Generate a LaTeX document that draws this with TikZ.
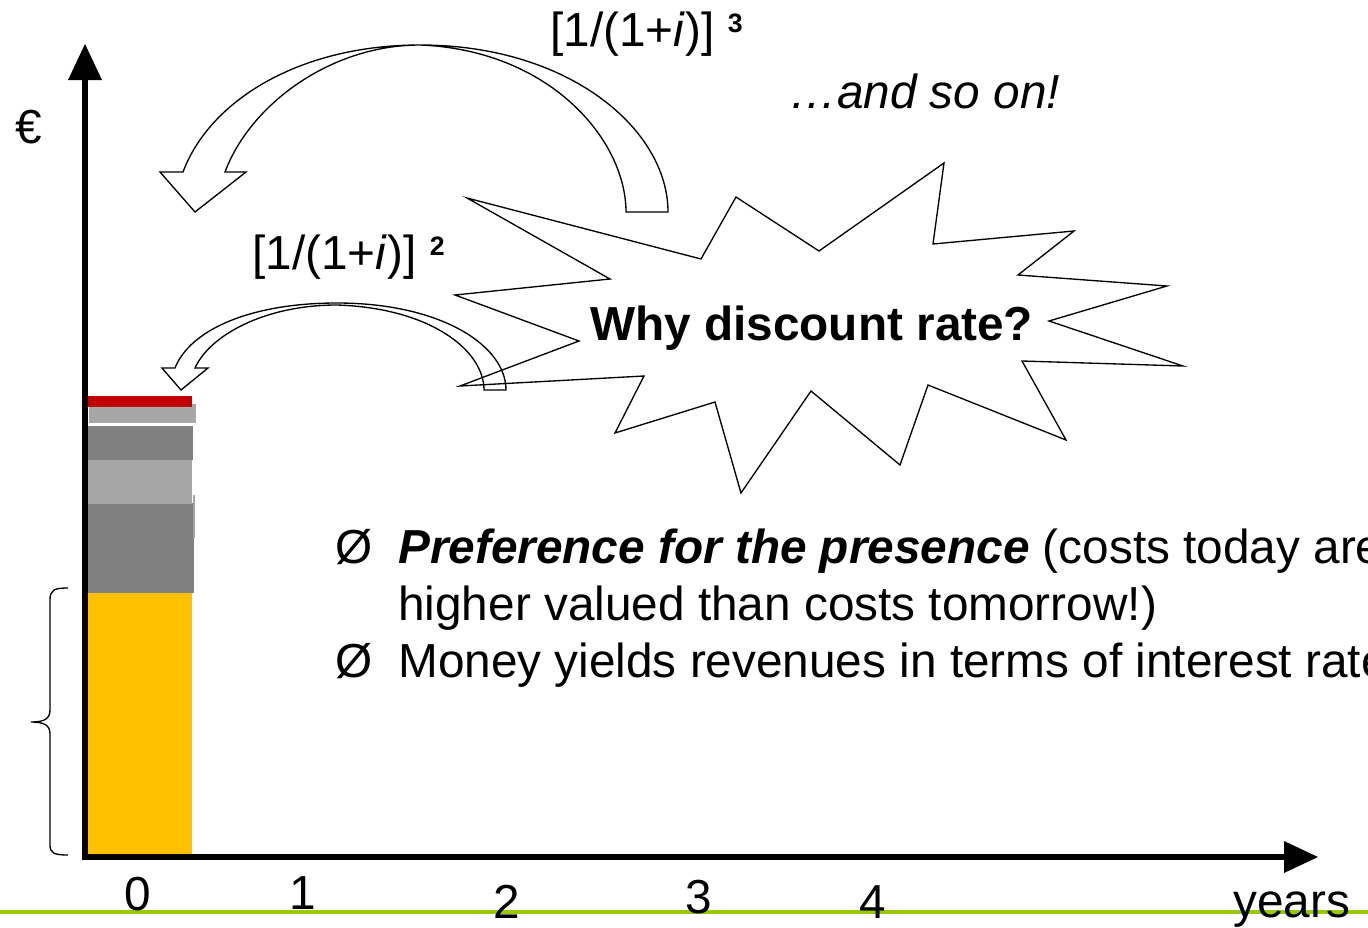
\documentclass[tikz,border=0pt]{standalone}
\usepackage{fontspec}
\setmainfont{Liberation Sans}
\definecolor{lineg}{RGB}{153,200,0}
\definecolor{barY}{RGB}{255,192,0}
\definecolor{barD}{RGB}{128,128,128}
\definecolor{barL}{RGB}{166,166,166}
\definecolor{barR}{RGB}{192,0,0}
\newcommand{\supnum}[1]{\raisebox{10pt}{\bfseries\fontsize{20}{20}\selectfont #1}}
\begin{document}
\begin{tikzpicture}[x=0.75pt,y=-0.75pt,
  txt/.style={inner sep=0pt,anchor=base west,font=\fontsize{35.8}{42}\selectfont},
  tick/.style={inner sep=0pt,anchor=base,font=\fontsize{35.8}{42}\selectfont},
  axisline/.style={line width=4.5pt},
  blockarrow/.style={draw=black,fill=white,line width=1pt,line join=miter},
  burst/.style={draw=black,fill=white,line width=1pt,line join=miter}]
\useasboundingbox (0,0) rectangle (1368,928);
\clip (0,0) rectangle (1368,928);
% footer line
\coordinate (gl) at (0,912);
\coordinate (gr) at (1368,912);
\draw[lineg,line width=2.4pt] (gl) -- (gr);
% bars
\fill[barY] (88,592) rectangle (192,856);
\fill[barD] (88,503) rectangle (194,593);
\fill[barL] (193,495) rectangle (195,538);
\fill[barL] (86,460) rectangle (192,504);
\fill[barD] (88,426) rectangle (193,460);
\fill[barL] (89,404) rectangle (196,423);
\fill[barR] (87,396) rectangle (192,407);
% axes
\coordinate (O) at (85,860);
\coordinate (ytop) at (85,78);
\coordinate (xo) at (82,857);
\coordinate (xend) at (1286,857);
\draw[axisline] (O) -- (ytop);
\fill (68,80) -- (85,44) -- (102,80) -- cycle;
\draw[axisline] (xo) -- (xend);
\fill (1284,841) -- (1318,857) -- (1284,873) -- cycle;
% brace
\draw[line width=1pt] (68,588) .. controls (54,588) and (50,590) .. (50,600) -- (50,710)
  .. controls (50,719) and (44,722) .. (31,722)
  .. controls (44,722) and (50,725) .. (50,734) -- (50,845)
  .. controls (50,853) and (54,855) .. (68,855);
% big curved arrow
\draw[blockarrow] (626,212) -- (668,212)
  .. controls (668,130) and (570,45) .. (420,45)
  .. controls (300,45) and (210,100) .. (183,172)
  -- (160,172) -- (195,212) -- (246,172) -- (225,172)
  .. controls (250,105) and (330,45) .. (420,45)
  .. controls (550,50) and (626,140) .. (626,212) -- cycle;
% starburst
\draw[burst] (467,198) -- (701,259) -- (736,197) -- (819,251) -- (944,163) -- (933,244)
  -- (1074,231) -- (1018,275) -- (1167,286) -- (1049,321) -- (1183,366) -- (1022,361)
  -- (1066,440) -- (928,385) -- (900,465) -- (811,391) -- (741,493) -- (715,402)
  -- (615,433) -- (644,376) -- (460,386) -- (579,341) -- (455,295) -- (610,279) -- cycle;
% small curved arrow
\draw[line width=1pt,line join=miter] (484,390) -- (506,390)
  .. controls (506,345) and (440,303) .. (337,303)
  .. controls (250,303) and (190,330) .. (175,368)
  -- (162,368) -- (181,390) -- (208,368) -- (195,368)
  .. controls (210,335) and (265,305) .. (337,305)
  .. controls (430,308) and (484,350) .. (484,390) -- cycle;
% texts
\node[txt] (why) at (590,340) {\bfseries Why discount rate?};
\node[txt] (lab3) at (550,46) {[1/(1+\textit{i})]~\supnum{3}};
\node[txt] (lab2) at (252,269) {[1/(1+\textit{i})]~\supnum{2}};
\node[txt] (soon) at (789,108) {\itshape …and so on!};
\node[txt] (euro) at (15,143) {€};
\node[txt] (b1) at (335,563) {Ø};
\node[txt] (t1) at (398,563) {\bfseries\itshape Preference for the presence\mdseries\upshape{} (costs today are};
\node[txt] (t2) at (398,620) {higher valued than costs tomorrow!)};
\node[txt] (b2) at (335,677) {Ø};
\node[txt] (t3) at (398,677) {Money yields revenues in terms of interest rate};
\node[tick] (n0) at (138,910) {0};
\node[tick] (n1) at (303,909) {1};
\node[tick] (n2) at (507,918) {2};
\node[tick] (n3) at (699,913) {3};
\node[tick] (n4) at (873,918) {4};
\node[txt] (yrs) at (1233,917) {years};
\end{tikzpicture}
\end{document}
